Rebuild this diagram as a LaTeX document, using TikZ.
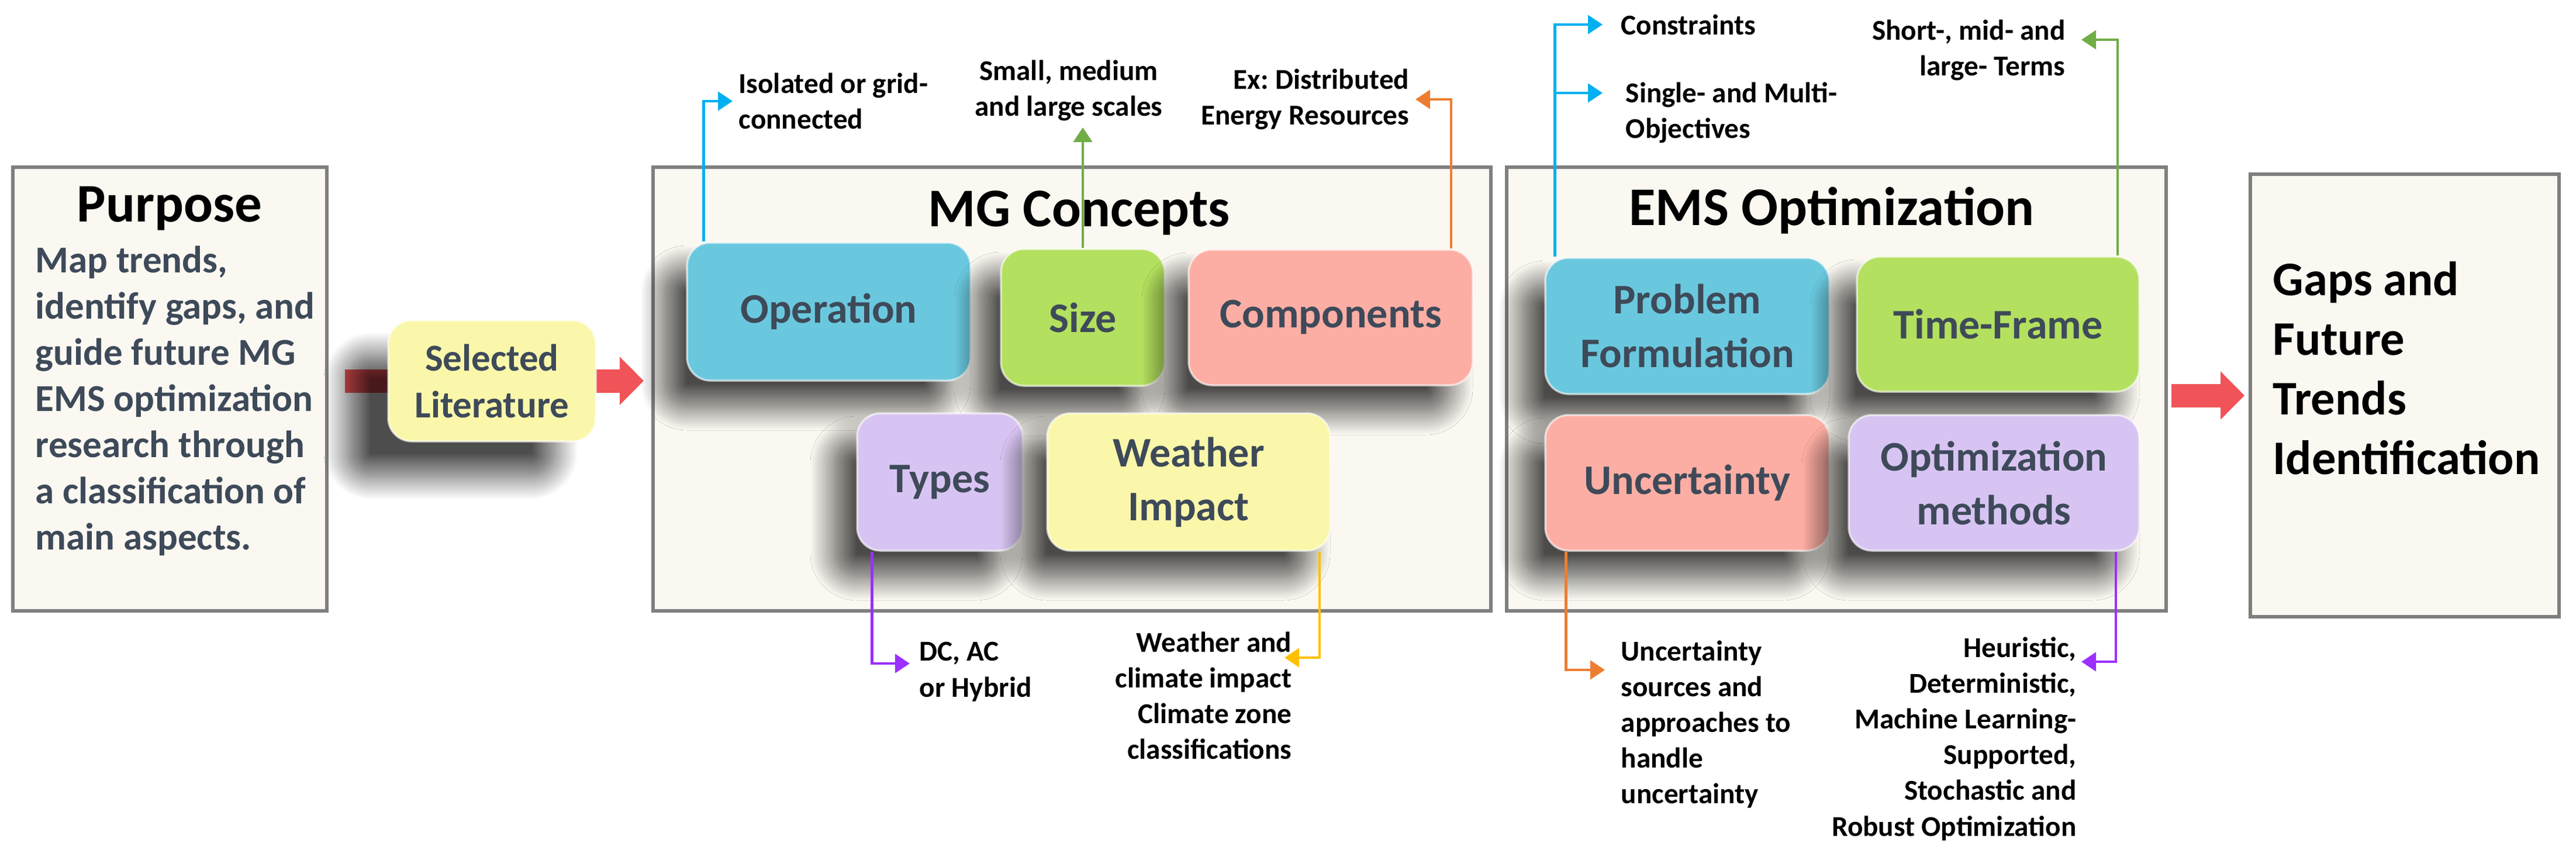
\documentclass[tikz,border=0pt]{standalone}
\usepackage{fontspec}
\setmainfont{Carlito}
\frenchspacing
\usetikzlibrary{arrows.meta,shadows.blur,backgrounds}
\definecolor{slate}{HTML}{3E4A59}
\definecolor{panelfill}{HTML}{FAF8F1}
\definecolor{panelline}{HTML}{7F7F7F}
\definecolor{opblue}{HTML}{6AC8DE}
\definecolor{sizegreen}{HTML}{B3E05E}
\definecolor{comppink}{HTML}{FDAEA4}
\definecolor{typelilac}{HTML}{D8C4F2}
\definecolor{wxyellow}{HTML}{FAF7AA}
\definecolor{bigred}{HTML}{F05458}
\definecolor{lnblue}{HTML}{00B0F0}
\definecolor{lngreen}{HTML}{70AD47}
\definecolor{lnorange}{HTML}{ED7D31}
\definecolor{lnpurple}{HTML}{9B30FF}
\definecolor{lngold}{HTML}{FFC000}

\begin{document}
\begin{tikzpicture}[x=1cm,y=-1cm,
        panel/.style={draw=panelline,fill=panelfill,line width=1.7pt,inner sep=0pt},
        paneltitle/.style={font=\bfseries\fontsize{26.5}{32}\selectfont,anchor=base,inner sep=0pt},
        tile/.style={rounded corners=0.4cm,draw=white,draw opacity=.6,line width=1pt,text=slate,align=center,
            font=\bfseries\fontsize{20.5}{26.2}\selectfont,
            blur shadow={shadow xshift=-4mm,shadow yshift=-4.5mm,shadow blur radius=4mm,shadow blur steps=30,shadow opacity=70,#1}},
        tile/.default={shadow scale=1},
        note/.style={font=\bfseries\fontsize{14}{17.4}\selectfont,inner sep=1mm},
        link/.style={line width=1.3pt,-{Triangle[length=0.25cm,width=0.32cm]}},
        bigarrow/.style={bigred,line width=0.4cm,-{Triangle[length=0.41cm,width=0.8cm]}}]
                \useasboundingbox (0,0) rectangle (44.06,14.77);

                \node[panel,minimum width=5.37cm,minimum height=7.59cm] (purpose) at (2.905,6.655) {};
                \node[paneltitle] (purposett) at (2.90,3.79) {Purpose};
                \node[anchor=north west,inner sep=0pt,align=left,text=slate,font=\bfseries\fontsize{18.5}{22.5}\selectfont] (purposetxt) at (0.60,4.20) {Map trends,\\identify gaps, and\\guide future MG\\EMS optimization\\research through\\a classification of\\main aspects.};

                \node[tile={shadow xshift=-7mm,shadow yshift=-6mm},fill=wxyellow,minimum width=3.55cm,minimum height=2.07cm,font=\bfseries\fontsize{18.5}{22.8}\selectfont] (lit) at (8.415,6.515) {Selected\\Literature};

                \node[panel,minimum width=14.33cm,minimum height=7.59cm] (mg) at (18.335,6.655) {};
                \node[paneltitle] (mgtt) at (18.46,3.87) {MG Concepts};
                \node[tile,fill=opblue,minimum width=4.85cm,minimum height=2.36cm] (op) at (14.175,5.33) {Operation};
                \node[tile,fill=sizegreen,minimum width=2.80cm,minimum height=2.34cm] (size) at (18.52,5.43) {Size};
                \node[tile,fill=comppink,minimum width=4.86cm,minimum height=2.32cm] (comp) at (22.76,5.43) {Components};
                \node[tile,fill=typelilac,minimum width=2.83cm,minimum height=2.35cm] (types) at (16.075,8.245) {Types};
                \node[tile,fill=wxyellow,minimum width=4.84cm,minimum height=2.35cm] (weather) at (20.33,8.245) {Weather\\Impact};

                \node[panel,minimum width=11.28cm,minimum height=7.59cm] (ems) at (31.41,6.655) {};
                \node[paneltitle] (emstt) at (31.33,3.85) {EMS Optimization};
                \node[tile,fill=opblue,minimum width=4.86cm,minimum height=2.33cm] (prob) at (28.86,5.575) {Problem\\Formulation};
                \node[tile,fill=sizegreen,minimum width=4.83cm,minimum height=2.31cm] (time) at (34.175,5.545) {Time-Frame};
                \node[tile,fill=comppink,minimum width=4.86cm,minimum height=2.32cm] (unc) at (28.86,8.26) {Uncertainty};
                \node[tile,fill=typelilac,minimum width=4.97cm,minimum height=2.32cm] (meth) at (34.105,8.26) {Optimization\\methods};

                \node[panel,minimum width=5.28cm,minimum height=7.57cm] (gaps) at (41.13,6.765) {};
                \node[anchor=north west,inner sep=0pt,align=left,font=\bfseries\fontsize{23.5}{29}\selectfont] (gapstxt) at (38.87,4.47) {Gaps and\\Future\\Trends\\Identification};

                \node[note,anchor=west,align=left] (iso) at (12.53,1.73) {Isolated or grid-\\connected};
                \node[note,anchor=south,align=center] (scales) at (18.28,2.18) {Small, medium\\and large scales};
                \node[note,anchor=east,align=right] (der) at (24.21,1.70) {Ex: Distributed\\Energy Resources};
                \node[note,anchor=north west,align=left] (dcac) at (15.62,10.88) {DC, AC\\or Hybrid};
                \node[note,anchor=north east,align=right] (wxtxt) at (22.20,10.70) {Weather and\\climate impact\\Climate zone\\classifications};
                \node[note,anchor=west] (cons) at (27.62,0.42) {Constraints};
                \node[note,anchor=north west,align=left] (obj) at (27.70,1.30) {Single- and Multi-\\Objectives};
                \node[note,anchor=north east,align=right] (terms) at (35.43,0.23) {Short-, mid- and\\large- Terms};
                \node[note,anchor=north west,align=left] (unctxt) at (27.62,10.85) {Uncertainty\\sources and\\approaches to\\handle\\uncertainty};
                \node[note,anchor=north east,align=right] (methtxt) at (35.62,10.79) {Heuristic,\\Deterministic,\\Machine Learning-\\Supported,\\Stochastic and\\Robust Optimization};

                \coordinate (dcacpt) at (15.56,11.35);
                \coordinate (wxpt) at (21.97,11.25);
                \coordinate (conspt) at (27.41,0.42);
                \coordinate (objpt) at (27.41,1.59);
                \coordinate (termspt) at (35.60,0.68);
                \coordinate (uncpt) at (27.45,11.46);
                \coordinate (methpt) at (35.60,11.32);

                \draw[link,lnblue] ([xshift=0.30cm]op.north west) |- (iso.west);
                \draw[link,lngreen] (size.north) -- (size.north |- scales.south);
                \draw[link,lnorange] ([xshift=-0.39cm]comp.north east) |- (der.east);
                \draw[link,lnpurple] ([xshift=0.27cm]types.south west) |- (dcacpt);
                \draw[link,lngold] ([xshift=-0.20cm]weather.south east) |- (wxpt);
                \draw[link,lnblue] ([xshift=0.18cm]prob.north west) coordinate (probup) |- (conspt);
                \draw[link,lnblue] (probup |- objpt) -- (objpt);
                \draw[link,lngreen] ([xshift=-0.39cm]time.north east) |- (termspt);
                \draw[link,lnorange] ([xshift=0.37cm]unc.south west) |- (uncpt);
                \draw[link,lnpurple] ([xshift=-0.42cm]meth.south east) |- (methpt);

                \coordinate (litin) at (purpose.east |- lit.west);
                \coordinate (litout) at (mg.west |- lit.west);
                \coordinate (gapsin) at (ems.east |- gaps.west);
                \begin{pgfonlayer}{background}
                \draw[bigarrow] ([xshift=0.28cm]litin) -- ([xshift=-0.13cm]litout);
                \draw[bigarrow] ([xshift=0.06cm]gapsin) -- ([xshift=-0.07cm]gaps.west);
                \end{pgfonlayer}
            \end{tikzpicture}
\end{document}
